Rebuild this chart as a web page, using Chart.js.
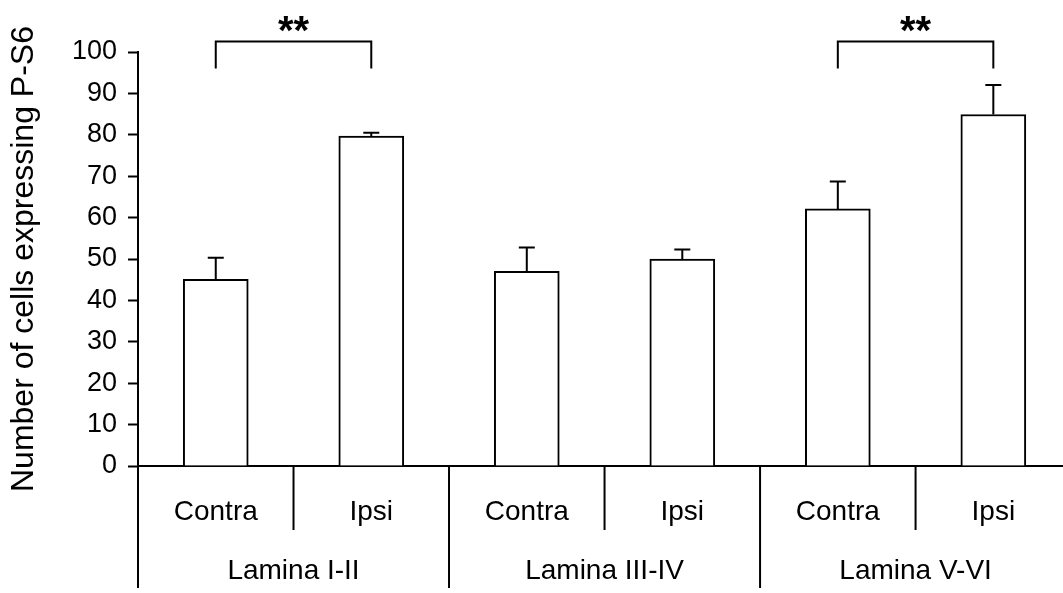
<!DOCTYPE html>
<html>
<head>
<meta charset="utf-8">
<script src="https://cdn.jsdelivr.net/npm/chart.js@4/dist/chart.umd.min.js"></script>
<style>
html,body{margin:0;padding:0;background:#fff;overflow:hidden}
#wrap{width:1063px;height:593px}
</style>
</head>
<body>
<div id="wrap"><canvas id="c" width="1063" height="593"></canvas></div>
<script>
// ---- data ----
const sides = ['Contra', 'Ipsi', 'Contra', 'Ipsi', 'Contra', 'Ipsi'];
const groups = ['Lamina I-II', 'Lamina III-IV', 'Lamina V-VI'];
const means = [45.1, 79.7, 47.0, 50.0, 62.1, 84.9];
const errors = [5.2, 0.8, 5.8, 2.3, 6.6, 7.1];
const yTicks = [0, 10, 20, 30, 40, 50, 60, 70, 80, 90, 100];
const sigPairs = [[0, 1], [4, 5]];
const sigMarks = ['**', '**'];
const yTitle = 'Number of cells expressing P-S6';

const FONT = 'Arial, "Liberation Sans", sans-serif';
const BLACK = '#000000';

const barData = means.map((v, i) => ({ x: i, y: v }));

const annotate = {
  id: 'annotate',
  afterDraw(chart) {
    const ctx = chart.ctx;
    const xs = chart.scales.x, ys = chart.scales.y;
    const bottom = ys.getPixelForValue(0);
    const top = ys.getPixelForValue(100);
    ctx.save();
    ctx.strokeStyle = BLACK;
    ctx.fillStyle = BLACK;
    ctx.lineWidth = 2;
    ctx.lineCap = 'butt';

    // error bars (upper only)
    means.forEach((m, i) => {
      const x = xs.getPixelForValue(i);
      const yb = ys.getPixelForValue(m);
      const yt = ys.getPixelForValue(m + errors[i]);
      ctx.beginPath();
      ctx.moveTo(x, yb);
      ctx.lineTo(x, yt);
      ctx.moveTo(x - 8, yt);
      ctx.lineTo(x + 8, yt);
      ctx.stroke();
    });

    // separators below axis
    for (let g = 0; g <= groups.length; g++) {
      const x = xs.getPixelForValue(g * 2 - 0.5);
      ctx.beginPath();
      ctx.moveTo(x, bottom);
      ctx.lineTo(x, bottom + 122);
      ctx.stroke();
      if (g < groups.length) {
        const xi = xs.getPixelForValue(g * 2 + 0.5);
        ctx.beginPath();
        ctx.moveTo(xi, bottom);
        ctx.lineTo(xi, bottom + 64);
        ctx.stroke();
      }
    }

    // labels
    ctx.textAlign = 'center';
    ctx.textBaseline = 'middle';
    ctx.font = '28px ' + FONT;
    sides.forEach((s, i) => {
      ctx.fillText(s, xs.getPixelForValue(i), bottom + 46);
    });
    groups.forEach((g, k) => {
      ctx.fillText(g, xs.getPixelForValue(k * 2 + 0.5), bottom + 105);
    });

    // significance brackets
    sigPairs.forEach((p, k) => {
      const x1 = xs.getPixelForValue(p[0]);
      const x2 = xs.getPixelForValue(p[1]);
      const yh = top - 10.5;
      const yv = top + 16.5;
      ctx.beginPath();
      ctx.moveTo(x1, yv);
      ctx.lineTo(x1, yh);
      ctx.lineTo(x2, yh);
      ctx.lineTo(x2, yv);
      ctx.stroke();
      ctx.font = 'bold 40px ' + FONT;
      ctx.textBaseline = 'alphabetic';
      ctx.fillText(sigMarks[k], (x1 + x2) / 2, top - 8);
    });
    ctx.restore();
  }
};

new Chart(document.getElementById('c'), {
  type: 'bar',
  data: {
    datasets: [{
      data: barData,
      backgroundColor: '#ffffff',
      borderColor: BLACK,
      borderWidth: 2,
      barThickness: 65
    }]
  },
  options: {
    responsive: false,
    animation: false,
    events: [],
    layout: { padding: { top: 52, bottom: 127, left: 0, right: 0 } },
    plugins: { legend: { display: false }, tooltip: { enabled: false } },
    scales: {
      x: {
        type: 'linear',
        offset: false,
        min: -0.5,
        max: 5.448,
        ticks: { display: false },
        grid: { display: false, drawTicks: false, offset: false },
        border: { display: true, color: BLACK, width: 2 },
        afterFit(s) { s.height = 0; }
      },
      y: {
        min: 0,
        max: 100,
        afterBuildTicks(s) { s.ticks = yTicks.map(v => ({ value: v })); },
        ticks: { color: BLACK, font: { family: FONT, size: 27 }, padding: 11 },
        grid: { drawOnChartArea: false, drawTicks: true, tickLength: 10, tickWidth: 2, tickColor: BLACK, color: BLACK },
        border: { display: true, color: BLACK, width: 2 },
        title: {
          display: true,
          text: yTitle,
          color: BLACK,
          font: { family: FONT, size: 32 },
          padding: { top: 5, bottom: 0 }
        },
        afterFit(s) { s.width = 138; }
      }
    }
  },
  plugins: [annotate]
});
</script>
</body>
</html>
